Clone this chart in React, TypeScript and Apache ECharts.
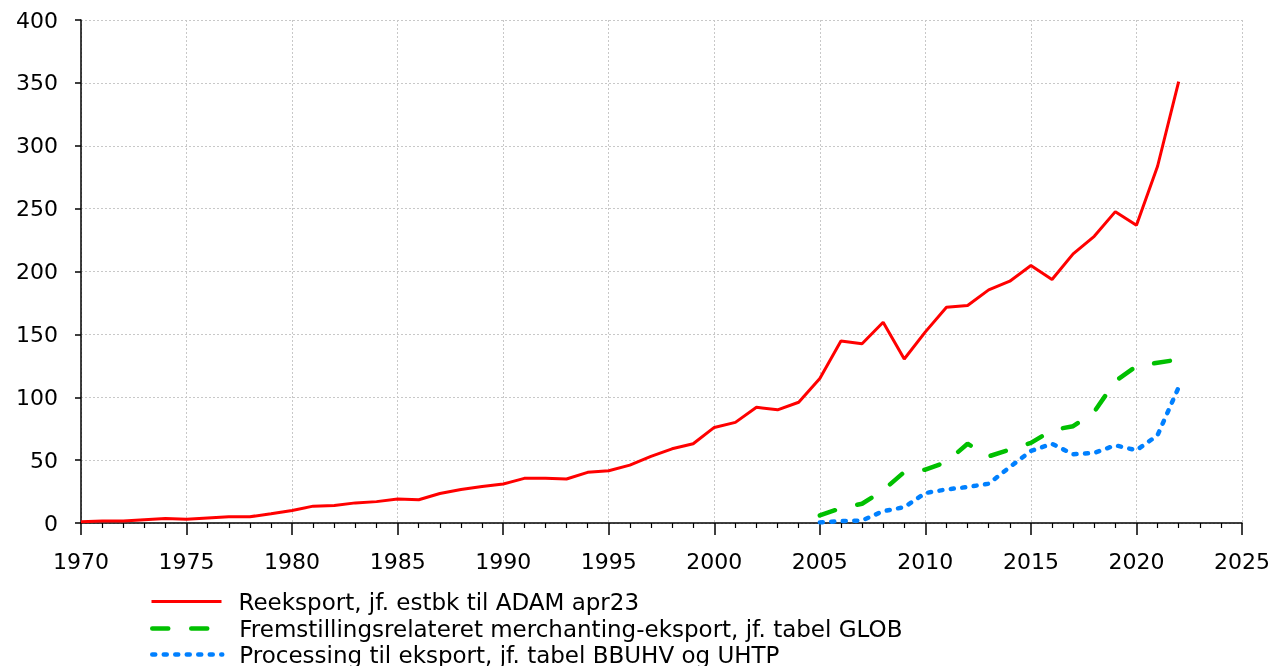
import React, { useEffect, useRef } from "react";
import * as echarts from "echarts";

const years = Array.from({ length: 53 }, (_, i) => 1970 + i);

const reeksport = [
  1, 1.5, 1.5, 2.5, 3.5, 3, 4, 5, 5, 7.3,
  10, 13.4, 14, 16, 17, 19, 18.5, 23.5, 26.7, 29,
  31, 35.5, 35.5, 35, 40.3, 41.6, 46, 53, 59, 63,
  76, 80, 92, 90, 96, 115, 144.7, 142.6, 159.6, 130.4,
  152, 171.6, 173, 185.4, 192.3, 204.8, 193.6, 214, 228, 247.6,
  236.7, 283.7, 351,
];

const merchYears = [2005, 2006, 2007, 2008, 2009, 2010, 2011, 2012, 2013, 2014, 2015, 2016, 2017, 2018, 2019, 2020, 2021, 2022];
const merchanting = [6, 11.8, 15.3, 26, 40.5, 42.4, 48.5, 63, 53, 58.4, 63.7, 73.8, 77, 88.4, 112.8, 124.8, 127.4, 130];
const processing = [0.5, 1.5, 2, 9.4, 12.6, 23.8, 26.7, 28.6, 31.2, 44.5, 57.3, 63, 54.6, 55.7, 61.8, 57.8, 69.8, 108];

const names = [
  "Reeksport, jf. estbk til ADAM apr23",
  "Fremstillingsrelateret merchanting-eksport, jf. tabel GLOB",
  "Processing til eksport, jf. tabel BBUHV og UHTP",
];

const FONT = "DejaVu Sans";
const legendCenters = [600, 627, 653];
const legendWidths = [3, 4.5, 4.5];

export default function App() {
  const ref = useRef<HTMLDivElement>(null);
  useEffect(() => {
    if (!ref.current) return;
    const chart = echarts.init(ref.current, undefined, { renderer: "svg" });
    const splitLine = { show: true, lineStyle: { color: "#c8c8c8", type: [2, 2], width: 1 } };
    chart.setOption({
      animation: false,
      textStyle: { fontFamily: FONT },
      grid: { left: 81, right: 40, top: 20, bottom: 143 },
      legend: names.map((n, i) => ({
        orient: "horizontal",
        left: 150,
        top: legendCenters[i] - 10,
        padding: 0,
        itemWidth: 70,
        itemHeight: 20,
        itemStyle: { color: "transparent", borderWidth: 0, borderColor: "transparent" },
        lineStyle: { width: legendWidths[i] },
        textStyle: { fontSize: 23, lineHeight: 20, color: "#000", fontFamily: FONT, padding: [0, 0, 0, 12] },
        data: [n],
      })),
      xAxis: {
        type: "value",
        min: 1970,
        max: 2025,
        interval: 5,
        axisLine: { lineStyle: { color: "#000", width: 1.5 } },
        axisTick: { show: true, length: 12, lineStyle: { color: "#000", width: 1.5 } },
        minorTick: { show: true, splitNumber: 5, length: 5, lineStyle: { color: "#000", width: 1.2 } },
        axisLabel: { fontSize: 22, color: "#000", margin: 27, fontFamily: FONT, formatter: (v: number) => String(v) },
        splitLine,
      },
      yAxis: {
        type: "value",
        min: 0,
        max: 400,
        interval: 50,
        axisLine: { show: true, lineStyle: { color: "#000", width: 1.5 } },
        axisTick: { show: true, length: 6, lineStyle: { color: "#000", width: 1.5 } },
        axisLabel: { fontSize: 22, color: "#000", margin: 23, fontFamily: FONT },
        splitLine,
      },
      series: [
        {
          name: names[0],
          type: "line",
          symbol: "none",
          showSymbol: false,
          data: years.map((y, i) => [y, reeksport[i]]),
          lineStyle: { color: "#ff0000", width: 3 },
          itemStyle: { color: "#ff0000" },
        },
        {
          name: names[1],
          type: "line",
          symbol: "none",
          showSymbol: false,
          data: merchYears.map((y, i) => [y, merchanting[i]]),
          lineStyle: { color: "#00c000", width: 4.5, type: [16, 23], cap: "round" },
          itemStyle: { color: "#00c000" },
        },
        {
          name: names[2],
          type: "line",
          symbol: "none",
          showSymbol: false,
          data: merchYears.map((y, i) => [y, processing[i]]),
          lineStyle: { color: "#0080ff", width: 4.5, type: [3, 8.5], cap: "round" },
          itemStyle: { color: "#0080ff" },
        },
      ],
    });
    return () => chart.dispose();
  }, []);
  return <div ref={ref} style={{ width: 1282, height: 666, position: "fixed", left: 0, top: 0 }} />;
}
